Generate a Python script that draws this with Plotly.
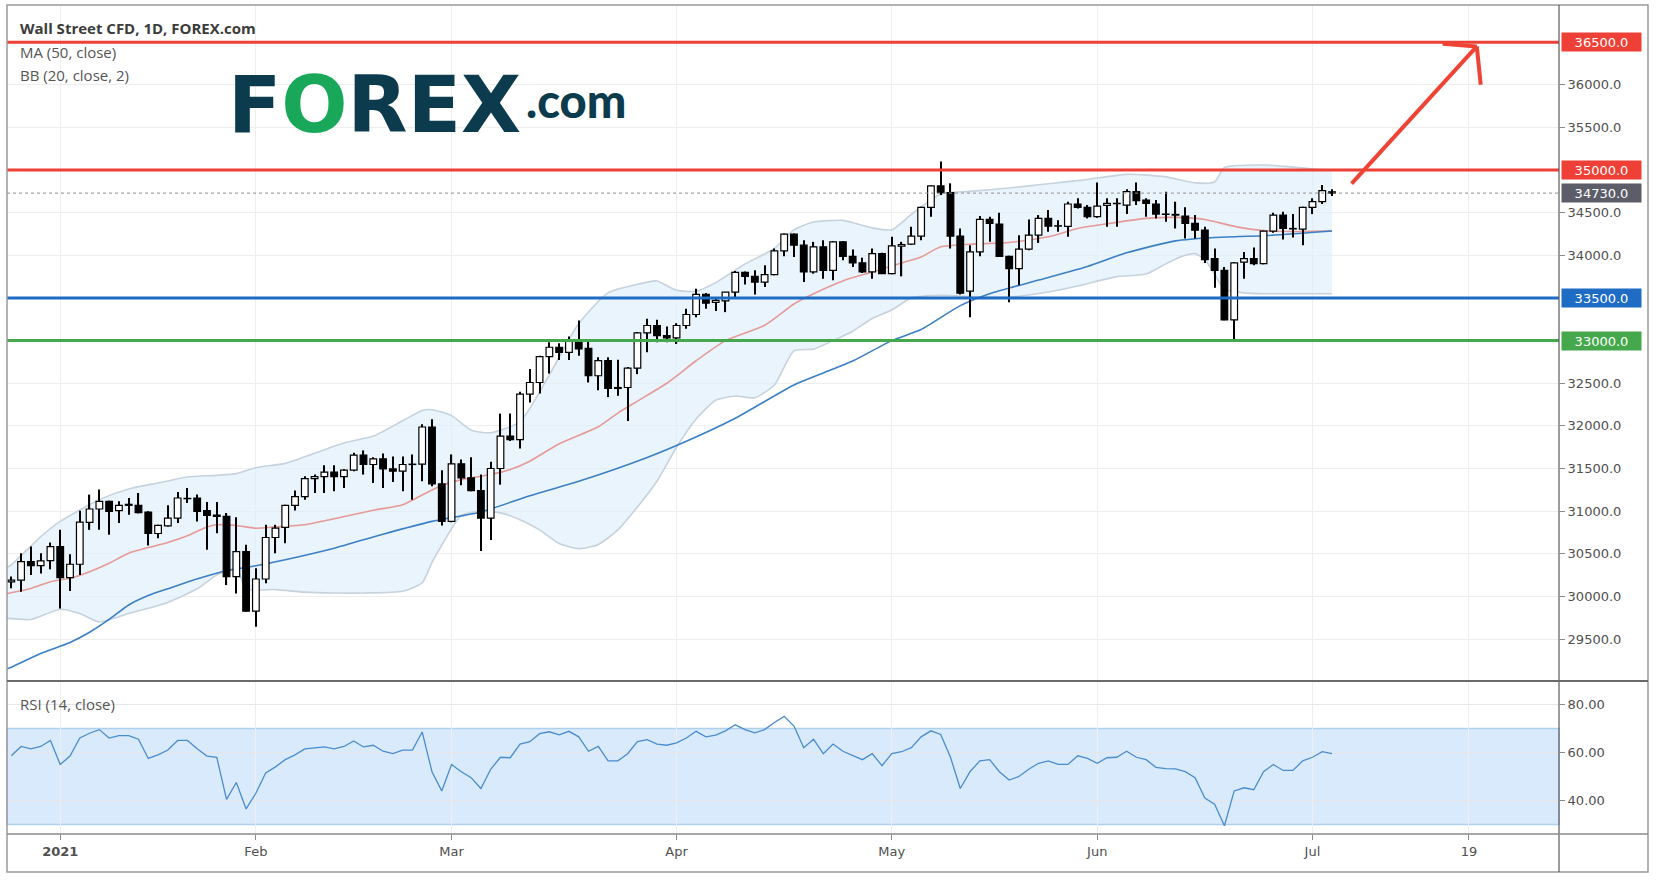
import plotly.graph_objects as go

W, H = 1656, 880

# ---------------- data ----------------
bar_index = list(range(136))
opens = [30170, 30190, 30408, 30361, 30420, 30585, 30220, 30377, 30868, 31025,
         31115, 31005, 31068, 31068, 30990, 30738, 30828, 30919, 31150, 31154,
         31005, 30954, 30938, 30232, 30526, 29827, 30204, 30691, 30809, 31068,
         31170, 31382, 31406, 31457, 31406, 31480, 31657, 31547, 31614, 31496,
         31469, 31547, 31551, 31987, 31319, 30880, 31555, 31390, 31241, 30919,
         31500, 31881, 31838, 32372, 32509, 32812, 32922, 32863, 33008, 32910,
         32588, 32765, 32439, 32450, 32678, 33090, 33177, 33059, 33032, 33177,
         33306, 33542, 33448, 33467, 33569, 33801, 33753, 33687, 33773, 34052,
         34248, 34119, 33805, 34099, 33824, 34158, 33989, 33911, 33805, 34021,
         33785, 34107, 34131, 34225, 34563, 34814, 34735, 34225, 33581, 34040,
         34421, 34366, 33989, 33844, 34072, 34237, 34433, 34343, 34339, 34602,
         34563, 34453, 34586, 34610, 34590, 34747, 34649, 34602, 34484, 34480,
         34460, 34374, 34295, 33962, 33824, 33243, 33920, 33962, 33903, 34284,
         34472, 34315, 34307, 34563, 34629, 34745]
highs = [30235, 30505, 30585, 30505, 30632, 30781, 30495, 31005, 31194, 31253,
         31123, 31115, 31154, 31213, 31000, 30840, 31068, 31225, 31272, 31194,
         31107, 31107, 30978, 30927, 30605, 30330, 30840, 30840, 31075, 31241,
         31410, 31429, 31539, 31539, 31490, 31685, 31712, 31633, 31677, 31641,
         31641, 31665, 32018, 32077, 31480, 31665, 31606, 31633, 31429, 31579,
         32144, 32144, 32400, 32666, 32823, 32980, 32969, 33047, 33236, 33000,
         32804, 32804, 32776, 32690, 33100, 33255, 33244, 33165, 33204, 33373,
         33609, 33558, 33491, 33570, 33816, 33810, 33824, 33883, 34079, 34255,
         34255, 34178, 34158, 34178, 34165, 34168, 34068, 33973, 34080, 34030,
         34217, 34158, 34335, 34570, 34820, 35100, 34845, 34315, 34119, 34460,
         34453, 34500, 33995, 34237, 34421, 34472, 34531, 34413, 34629, 34669,
         34590, 34853, 34669, 34669, 34775, 34853, 34669, 34649, 34747, 34629,
         34563, 34472, 34335, 34080, 33864, 33920, 34040, 34091, 34290, 34500,
         34512, 34484, 34570, 34669, 34826, 34775]
lows = [30095, 30055, 30250, 30270, 30318, 29858, 30063, 30251, 30781, 30781,
        30722, 30860, 30958, 30974, 30597, 30683, 30820, 30860, 31096, 30880,
        30546, 30742, 30133, 30035, 29819, 29643, 30153, 30506, 30624, 31009,
        31135, 31213, 31213, 31233, 31272, 31469, 31429, 31331, 31272, 31343,
        31233, 31135, 31351, 31292, 30832, 30870, 31304, 31233, 30534, 30663,
        31311, 31822, 31736, 32274, 32380, 32615, 32772, 32772, 32823, 32509,
        32419, 32340, 32352, 32058, 32607, 32863, 32980, 32980, 32961, 33138,
        33275, 33373, 33346, 33334, 33490, 33659, 33541, 33628, 33766, 33989,
        33981, 33687, 33785, 33726, 33707, 33942, 33864, 33793, 33726, 33780,
        33777, 33754, 34125, 34178, 34453, 34708, 34080, 33541, 33274, 33989,
        34158, 33981, 33451, 33648, 34060, 34146, 34276, 34276, 34217, 34550,
        34433, 34440, 34335, 34335, 34484, 34590, 34453, 34433, 34394, 34315,
        34197, 34197, 33911, 33620, 33240, 33007, 33726, 33883, 33895, 34264,
        34186, 34209, 34119, 34484, 34602, 34696]
closes = [30190, 30408, 30361, 30416, 30585, 30220, 30377, 30872, 31025, 31115,
          30997, 31068, 31080, 30982, 30738, 30832, 30919, 31154, 31146, 30997,
          30950, 30938, 30232, 30526, 29827, 30204, 30691, 30801, 31068, 31170,
          31382, 31406, 31457, 31406, 31480, 31657, 31547, 31614, 31496, 31469,
          31547, 31551, 31987, 31319, 30880, 31555, 31390, 31241, 30919, 31500,
          31881, 31838, 32372, 32509, 32812, 32922, 32863, 33008, 32902, 32588,
          32765, 32439, 32450, 32678, 33090, 33177, 33059, 33032, 33177, 33306,
          33542, 33440, 33471, 33569, 33801, 33753, 33687, 33773, 34052, 34248,
          34119, 33805, 34099, 33824, 34158, 33989, 33911, 33805, 34021, 33785,
          34111, 34127, 34225, 34563, 34814, 34735, 34225, 33557, 34040, 34421,
          34374, 33989, 33844, 34072, 34237, 34433, 34343, 34347, 34602, 34563,
          34453, 34578, 34610, 34606, 34747, 34641, 34610, 34484, 34480, 34472,
          34374, 34295, 33950, 33824, 33243, 33911, 33962, 33903, 34284, 34472,
          34315, 34310, 34563, 34629, 34759, 34730]

# MA (50, close) read at sampled bars
ma50_x = [-1, 0, 3, 6, 8, 10, 12, 14, 16, 18, 20, 22, 25, 28, 33, 38, 43, 48,
          53, 58, 65, 69, 74, 80, 83, 86, 90, 93, 97, 100, 105, 110, 114, 119,
          123, 128, 135]
ma50_y = [29130, 29170, 29330, 29460, 29580, 29730, 29900, 30010, 30090, 30170,
          30240, 30300, 30360, 30430, 30565, 30730, 30880, 30990, 31180, 31350,
          31630, 31820, 32090, 32480, 32620, 32760, 33000, 33130, 33410, 33550,
          33710, 33870, 34030, 34170, 34210, 34230, 34285]

# BB basis (20) read at sampled bars
bb_mid_x = [-1, 0, 2, 4, 6, 8, 10, 12, 14, 16, 18, 20, 21, 23, 25, 27, 30, 33,
            37, 40, 42, 44, 46, 49, 51, 53, 56, 60, 62, 64, 67, 70, 73, 77, 80,
            82, 85, 88, 91, 93, 95, 98, 102, 106, 109, 112, 116, 119, 122, 125,
            128, 131, 135]
bb_mid_y = [30020, 30043, 30094, 30173, 30212, 30290, 30390, 30507, 30573,
            30632, 30711, 30815, 30840, 30832, 30800, 30815, 30840, 30911,
            31010, 31076, 31190, 31300, 31370, 31430, 31488, 31586, 31790,
            31990, 32150, 32290, 32500, 32764, 33000, 33180, 33430, 33550,
            33700, 33805, 33910, 33981, 34100, 34131, 34150, 34217, 34315,
            34370, 34433, 34445, 34420, 34340, 34290, 34280, 34288]

# BB upper band read at sampled bars
bb_up_x = [-1, 0, 3, 5, 9, 12, 15, 18, 21, 23, 25, 28, 31, 34, 37, 40, 42, 43,
           45, 47, 49, 52, 55, 58, 61, 64, 66, 68, 70, 72, 75, 78, 80, 82, 85,
           88, 90, 92, 95, 98, 102, 106, 110, 114, 118, 121, 123, 124, 128,
           131, 135]
bb_up_y = [30300, 30370, 30700, 30880, 31135, 31260, 31330, 31400, 31420,
           31440, 31510, 31560, 31680, 31800, 31880, 32060, 32180, 32190,
           32120, 31950, 31920, 32050, 32600, 33200, 33560, 33660, 33700,
           33590, 33580, 33680, 33900, 34080, 34300, 34390, 34410, 34320,
           34300, 34480, 34720, 34750, 34790, 34840, 34890, 34950, 34920,
           34850, 34860, 35030, 35060, 35035, 34995]

# BB lower band read at sampled bars
bb_lo_x = [-1, 0, 2, 5, 7, 9, 12, 16, 19, 21, 23, 24, 27, 30, 33, 36, 40, 42,
           43, 44, 46, 48, 50, 52, 54, 56, 58, 60, 62, 64, 66, 68, 70, 72, 74,
           76, 78, 80, 82, 84, 86, 88, 90, 92, 95, 99, 102, 106, 109, 113, 116,
           118, 120, 121, 122, 123, 124, 126, 128, 131, 135]
bb_lo_y = [29745, 29740, 29730, 29850, 29800, 29700, 29800, 29930, 30090,
           30250, 30330, 30090, 30080, 30050, 30040, 30040, 30060, 30160,
           30400, 30600, 30950, 31000, 30980, 30900, 30780, 30620, 30560,
           30610, 30780, 31050, 31350, 31750, 32080, 32300, 32350, 32330,
           32480, 32880, 32900, 33000, 33110, 33260, 33360, 33500, 33530,
           33510, 33510, 33570, 33640, 33750, 33780, 33900, 34000, 34020,
           33950, 33780, 33600, 33560, 33550, 33550, 33550]

# RSI (14, close), one value per bar
rsi = [58.6, 62.5, 61.5, 62.5, 65.0, 55.0, 58.5, 66.0, 68.0, 69.5,
       66.0, 67.0, 67.0, 65.5, 57.5, 59.0, 61.0, 65.0, 65.0, 61.5,
       58.5, 58.0, 40.5, 47.5, 36.5, 43.0, 51.5, 54.0, 57.0, 59.0,
       61.5, 61.8, 62.3, 61.5, 62.5, 64.8, 62.3, 63.0, 60.5, 59.5,
       61.0, 61.0, 68.5, 52.0, 44.0, 55.0, 52.0, 49.5, 45.0, 53.0,
       58.0, 57.8, 63.5, 64.5, 67.8, 68.6, 67.3, 68.8, 66.5, 60.5,
       62.5, 56.5, 56.5, 59.5, 64.5, 65.3, 63.5, 63.0, 64.0, 66.0,
       68.8, 66.5, 67.2, 69.0, 71.5, 69.5, 68.2, 69.5, 72.5, 75.0,
       71.0, 62.0, 65.5, 59.5, 63.5, 60.5, 58.8, 57.0, 59.5, 54.5,
       59.5, 60.3, 62.0, 66.5, 69.0, 67.5, 58.0, 45.0, 52.0, 56.5,
       57.0, 52.0, 48.5, 50.0, 53.0, 55.5, 56.5, 55.0, 55.0, 58.6,
       57.5, 55.5, 57.8, 58.0, 60.5, 58.0, 57.0, 53.8, 53.3, 53.2,
       52.0, 49.5, 41.0, 38.5, 29.5, 44.0, 45.3, 44.5, 52.0, 55.0,
       52.5, 52.5, 56.5, 58.0, 60.3, 59.5]

month_ticks = [5, 25, 45, 68, 90, 111, 133, 149]
month_labels = ["<b>2021</b>", "Feb", "Mar", "Apr", "May", "Jun", "Jul", "19"]
price_ticks = [29500, 30000, 30500, 31000, 31500, 32000, 32500, 34000, 34500,
               35500, 36000]
rsi_ticks = [40, 60, 80]
rsi_band = [30, 70]

levels = [36500, 35000, 33500, 33000]
level_colors = ["#ee4036", "#ee4036", "#1f6cc4", "#45a84c"]
last_price = 34730

# arrow drawing (bar index, price)
arrow_tail = (137.0, 34840)
arrow_tip = (149.8, 36450)
arrow_head_left = (146.3, 36480)
arrow_head_down = (150.2, 36000)

# ---------------- layout geometry (pixels) ----------------
X0, X1, XR = 7, 1559, 1648
Y_TOP, Y_MAIN, Y_RSI, Y_BOT = 5, 681, 834, 872
XRANGE = [-0.44, 158.2]
YRANGE = [29008, 36936]
GRID = "#eeeeee"
AXFONT = dict(family="DejaVu Sans", size=13, color="#505050")
BODY_W = 0.68
WICK_W = 0.12


def px(x):
    return x / W


def py(y):
    return 1 - y / H


up = [i for i in bar_index if closes[i] >= opens[i]]
dn = [i for i in bar_index if closes[i] < opens[i]]

fig = go.Figure()

# indicators on the base subplot
fig.add_trace(go.Scatter(
    x=bb_up_x, y=bb_up_y, mode="lines",
    line=dict(color="#c6d2dd", width=1.6, shape="spline", smoothing=0.6),
    hoverinfo="skip", showlegend=False))
fig.add_trace(go.Scatter(
    x=bb_lo_x, y=bb_lo_y, mode="lines", fill="tonexty",
    fillcolor="rgba(222,238,251,0.65)",
    line=dict(color="#c6d2dd", width=1.6, shape="spline", smoothing=0.6),
    hoverinfo="skip", showlegend=False))
fig.add_trace(go.Scatter(
    x=bb_mid_x, y=bb_mid_y, mode="lines",
    line=dict(color="#e59a98", width=1.6, shape="spline", smoothing=0.6),
    hoverinfo="skip", showlegend=False))
fig.add_trace(go.Scatter(
    x=ma50_x, y=ma50_y, mode="lines",
    line=dict(color="#3b7fc6", width=1.6, shape="spline", smoothing=0.6),
    hoverinfo="skip", showlegend=False))

# candles on an overlaid subplot (drawn above indicators)
fig.add_trace(go.Bar(
    x=bar_index, base=lows, y=[highs[i] - lows[i] for i in bar_index],
    width=WICK_W, marker=dict(color="#000000", line=dict(width=0)),
    xaxis="x3", yaxis="y3", hoverinfo="skip", showlegend=False))
fig.add_trace(go.Bar(
    x=up, base=[opens[i] for i in up], y=[closes[i] - opens[i] for i in up],
    width=BODY_W, marker=dict(color="#ffffff",
                              line=dict(color="#000000", width=1.2)),
    xaxis="x3", yaxis="y3", hoverinfo="skip", showlegend=False))
fig.add_trace(go.Bar(
    x=dn, base=[closes[i] for i in dn], y=[opens[i] - closes[i] for i in dn],
    width=BODY_W, marker=dict(color="#000000",
                              line=dict(color="#000000", width=1.2)),
    xaxis="x3", yaxis="y3", hoverinfo="skip", showlegend=False))

fig.add_trace(go.Scatter(
    x=bar_index, y=rsi, mode="lines", xaxis="x2", yaxis="y2",
    line=dict(color="#4b8ccf", width=1.3),
    hoverinfo="skip", showlegend=False))

fig.update_layout(
    width=W, height=H, margin=dict(l=0, r=0, t=0, b=0),
    paper_bgcolor="white", plot_bgcolor="white", showlegend=False,
    hovermode=False, barmode="overlay",
    xaxis=dict(domain=[px(X0), px(X1)], range=XRANGE, anchor="y",
               tickvals=month_ticks, showticklabels=False, ticks="",
               showgrid=True, gridcolor=GRID, zeroline=False,
               showline=False),
    yaxis=dict(domain=[py(Y_MAIN), py(Y_TOP)], range=YRANGE,
               anchor="x", side="right", tickvals=price_ticks,
               tickformat=".1f", ticks="outside", ticklen=5,
               tickcolor="#8a8a8a", tickfont=AXFONT, showgrid=True,
               gridcolor=GRID, zeroline=False, showline=False),
    xaxis3=dict(overlaying="x", range=XRANGE, anchor="y3", visible=False),
    yaxis3=dict(overlaying="y", range=YRANGE, anchor="x3", visible=False,
                side="right"),
    xaxis2=dict(domain=[px(X0), px(X1)], range=XRANGE, anchor="y2",
                tickvals=month_ticks, ticktext=month_labels,
                ticks="outside", ticklen=5, tickcolor="#8a8a8a",
                tickfont=AXFONT, showgrid=True, gridcolor=GRID,
                zeroline=False, showline=False),
    yaxis2=dict(domain=[py(Y_RSI), py(Y_MAIN)], range=[26.06, 89.74],
                anchor="x2", side="right", tickvals=rsi_ticks,
                tickformat=".2f", ticks="outside", ticklen=5,
                tickcolor="#8a8a8a", tickfont=AXFONT, showgrid=True,
                gridcolor="#e6e6e6", zeroline=False, showline=False),
)

shapes = []
# RSI 30-70 band
shapes.append(dict(type="rect", xref="x2 domain", x0=0, x1=1, yref="y2",
                   y0=rsi_band[0], y1=rsi_band[1], fillcolor="#d8eafb",
                   line=dict(color="#aed0ef", width=1.5), layer="below"))
# white box behind logo
shapes.append(dict(type="rect", xref="paper", yref="paper",
                   x0=px(219), x1=px(629), y0=py(145), y1=py(62),
                   fillcolor="white", line=dict(width=0), layer="between"))
# last price dotted line
shapes.append(dict(type="line", xref="x domain", x0=0, x1=1, yref="y",
                   y0=last_price, y1=last_price,
                   line=dict(color="#8f8f8f", width=1, dash="dot"),
                   layer="above"))
# horizontal levels
for lv, col in zip(levels, level_colors):
    shapes.append(dict(type="line", xref="x domain", x0=0, x1=1, yref="y",
                       y0=lv, y1=lv, line=dict(color=col, width=3),
                       layer="above"))
# arrow
for a, b in [(arrow_tail, arrow_tip), (arrow_head_left, arrow_tip),
             (arrow_head_down, arrow_tip)]:
    shapes.append(dict(type="line", xref="x", yref="y", x0=a[0], y0=a[1],
                       x1=b[0], y1=b[1],
                       line=dict(color="#ef4336", width=4), layer="above"))
# frame and separators
shapes.append(dict(type="rect", xref="paper", yref="paper", x0=px(X0),
                   x1=px(XR), y0=py(Y_BOT), y1=py(Y_TOP),
                   line=dict(color="#9a9a9a", width=1.5), layer="above"))
shapes.append(dict(type="line", xref="paper", yref="paper", x0=px(X1),
                   x1=px(X1), y0=py(Y_BOT), y1=py(Y_TOP),
                   line=dict(color="#5a5a5a", width=1.2), layer="above"))
shapes.append(dict(type="line", xref="paper", yref="paper", x0=px(X0),
                   x1=px(XR), y0=py(Y_MAIN), y1=py(Y_MAIN),
                   line=dict(color="#6a6a6a", width=2), layer="above"))
shapes.append(dict(type="line", xref="paper", yref="paper", x0=px(X0),
                   x1=px(XR), y0=py(Y_RSI), y1=py(Y_RSI),
                   line=dict(color="#8a8a8a", width=1.5), layer="above"))
fig.update_layout(shapes=shapes)

ann = []
LEG = dict(family="Open Sans", size=15, color="#555555")
ann.append(dict(xref="paper", yref="paper", x=px(18), y=py(28.5),
                xanchor="left", yanchor="middle", showarrow=False,
                text="<b>Wall Street CFD, 1D, FOREX.com</b>",
                font=dict(family="Open Sans", size=15, color="#3c3c3c")))
ann.append(dict(xref="paper", yref="paper", x=px(18), y=py(52),
                xanchor="left", yanchor="middle", showarrow=False,
                text="MA (50, close)", font=LEG))
ann.append(dict(xref="paper", yref="paper", x=px(18), y=py(75),
                xanchor="left", yanchor="middle", showarrow=False,
                text="BB (20, close, 2)", font=LEG))
ann.append(dict(xref="paper", yref="paper", x=px(18), y=py(704),
                xanchor="left", yanchor="middle", showarrow=False,
                text="RSI (14, close)", font=LEG))
# logo
ann.append(dict(xref="paper", yref="paper", x=px(226), y=py(105),
                xanchor="left", yanchor="middle", showarrow=False,
                text="<b>F<span style='color:#19a85a'>O</span>REX</b>",
                font=dict(family="DejaVu Sans", size=78, color="#0d3b4e")))
ann.append(dict(xref="paper", yref="paper", x=px(524), y=py(100),
                xanchor="left", yanchor="middle", showarrow=False,
                text=".com",
                font=dict(family="Lato", size=47, color="#0d3b4e",
                          weight=900)))
# price boxes on the axis
box_vals = levels + [last_price]
box_cols = level_colors + ["#5b5e69"]
for v, c in zip(box_vals, box_cols):
    ann.append(dict(xref="paper", yref="y", x=px(X1 + 2), y=v,
                    xanchor="left", yanchor="middle", showarrow=False,
                    text=f"{v:.1f}", bgcolor=c, width=76, height=15,
                    borderpad=1.5,
                    font=dict(family="DejaVu Sans", size=13, color="white")))
fig.update_layout(annotations=ann)

fig.write_html("out.html", config={"displayModeBar": False},
               post_script="document.body.style.margin='0';"
                           "document.body.style.overflow='hidden';")
